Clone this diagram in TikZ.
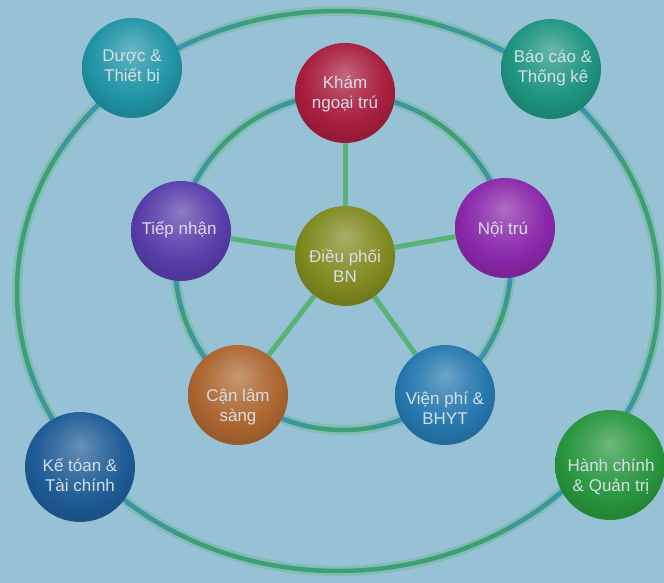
\documentclass[tikz,border=0pt]{standalone}
\usepackage{fontspec}
\setmainfont{Liberation Sans}
\definecolor{bg}{RGB}{151,193,213}
\definecolor{cDuoc}{RGB}{32,148,165}
\definecolor{cBao}{RGB}{30,148,128}
\definecolor{cKham}{RGB}{168,30,62}
\definecolor{cTiep}{RGB}{88,62,170}
\definecolor{cNoi}{RGB}{138,40,170}
\definecolor{cDieu}{RGB}{128,138,32}
\definecolor{cCan}{RGB}{172,102,48}
\definecolor{cVien}{RGB}{38,120,175}
\definecolor{cKe}{RGB}{30,92,150}
\definecolor{cHanh}{RGB}{40,150,62}
\definecolor{ringcore}{RGB}{62,158,118}
\definecolor{ringglow}{RGB}{105,185,140}
\definecolor{ringblue}{RGB}{60,145,185}
\definecolor{spoke}{RGB}{88,178,122}
\definecolor{txt}{RGB}{214,222,230}
\newcommand\defsphere[1]{\pgfdeclareradialshading{sph#1}{\pgfpoint{0bp}{10bp}}{color(0bp)=(c#1!68!white); color(12bp)=(c#1!88!white); color(21bp)=(c#1); color(28bp)=(c#1!88!black); color(33bp)=(c#1!88!white); color(50bp)=(c#1!88!white)}}
\defsphere{Duoc}\defsphere{Bao}\defsphere{Kham}\defsphere{Tiep}\defsphere{Noi}
\defsphere{Dieu}\defsphere{Can}\defsphere{Vien}\defsphere{Ke}\defsphere{Hanh}
\tikzset{
  ball/.style={circle, minimum size=100pt, inner sep=0pt},
  bigball/.style={circle, minimum size=110pt, inner sep=0pt},
  lbl/.style={text=txt, align=center, font=\fontsize{17}{20}\selectfont, inner sep=0pt},
  ringglowst/.style={draw=ringglow, line width=10pt, opacity=0.45},
  ringcorest/.style={draw=ringcore, line width=4.5pt},
  bluetint/.style={draw=ringblue, line width=4.5pt, opacity=0.55},
  bluetintc/.style={draw=ringblue, line width=4.5pt, opacity=0.75},
  spokest/.style={draw=spoke, line width=5pt}
}
\newcommand\otint[1]{%
  \draw[bluetint] (oc) ++({#1-22}:321 and 280) arc [start angle={#1-22}, end angle={#1+22}, x radius=321, y radius=280];
  \draw[bluetintc] (oc) ++({#1-12}:321 and 280) arc [start angle={#1-12}, end angle={#1+12}, x radius=321, y radius=280];}
\newcommand\itint[1]{%
  \draw[bluetint] (ic) ++({#1-28}:168) arc [start angle={#1-28}, end angle={#1+28}, radius=168];
  \draw[bluetintc] (ic) ++({#1-20}:168) arc [start angle={#1-20}, end angle={#1+20}, radius=168];}
\begin{document}
\begin{tikzpicture}[x=1pt,y=-1pt]
\fill[bg] (0,0) rectangle (664,583);
\useasboundingbox (0,0) rectangle (664,583);
% rings
\coordinate (oc) at (338,291);
\coordinate (ic) at (343,262);
\draw[ringglowst] (oc) ellipse [x radius=321, y radius=280];
\draw[ringcorest] (oc) ellipse [x radius=321, y radius=280];
\draw[ringglowst] (ic) circle [radius=168];
\draw[ringcorest] (ic) circle [radius=168];
\otint{231}\otint{310}\otint{142}\otint{36}
\itint{270}\itint{191}\itint{348}\itint{128}\itint{52}
% spokes
\node[ball, shading=sphDieu] (dieu) at (345,256) {};
\node[ball, shading=sphKham] (kham) at (345,93) {};
\node[ball, shading=sphTiep] (tiep) at (181,231) {};
\node[ball, shading=sphNoi] (noi) at (505,228) {};
\node[ball, shading=sphCan] (can) at (238,395) {};
\node[ball, shading=sphVien] (vien) at (445,395) {};
\node[ball, shading=sphDuoc] (duoc) at (132,68) {};
\node[ball, shading=sphBao] (bao) at (551,69) {};
\node[bigball, shading=sphKe] (ke) at (80,467) {};
\node[bigball, shading=sphHanh] (hanh) at (610,465) {};
\draw[spokest] (dieu) -- (kham);
\draw[spokest] (dieu) -- (tiep);
\draw[spokest] (dieu) -- (noi);
\draw[spokest] (dieu) -- (can);
\draw[spokest] (dieu) -- (vien);
% labels
\node[lbl] (t-dieu) at (345,266) {Điều phối\\BN};
\node[lbl] (t-kham) at (345,94) {Khám\\ngoại trú};
\node[lbl] (t-tiep) at (179,230) {Tiếp nhận};
\node[lbl] (t-noi) at (503,230) {Nội trú};
\node[lbl] (t-can) at (238,407) {Cận lâm\\sàng};
\node[lbl] (t-vien) at (445,408) {Viện phí \&\\BHYT};
\node[lbl] (t-duoc) at (132,67) {Dược \&\\Thiết bị};
\node[lbl] (t-bao) at (553,68) {Báo cáo \&\\Thống kê};
\node[lbl] (t-ke) at (80,475) {Kế tóan \&\\Tài chính};
\node[lbl] (t-hanh) at (611,477) {Hành chính\\\& Quản trị};
\end{tikzpicture}
\end{document}
